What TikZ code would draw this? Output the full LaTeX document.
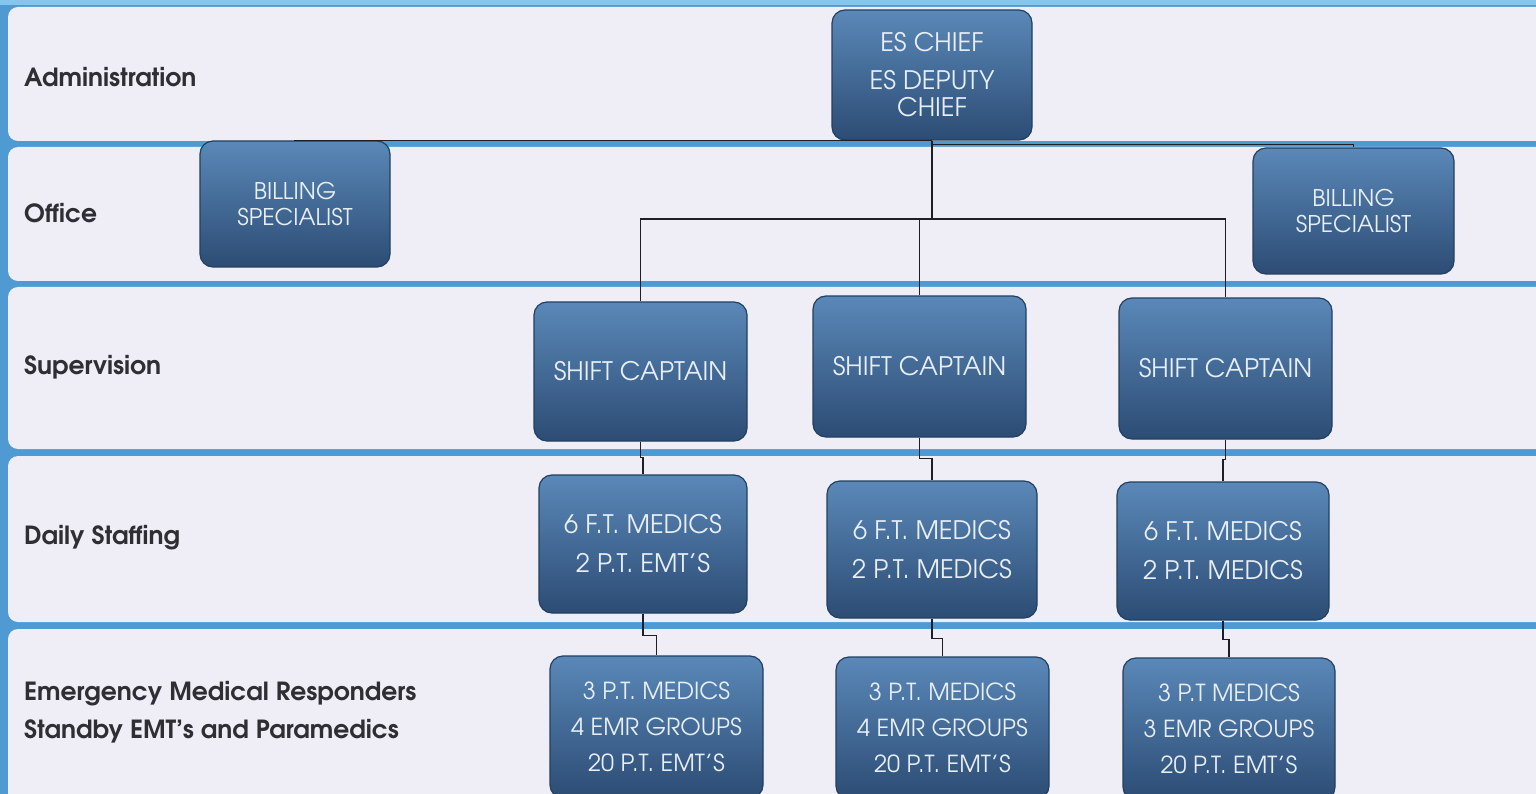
\documentclass[tikz,border=0pt]{standalone}
\usepackage{fontspec}
\setmainfont{TeX Gyre Adventor}
\usetikzlibrary{calc}
\definecolor{bgblue}{HTML}{4F9AD3}
\definecolor{bgtop}{HTML}{86C6EC}
\definecolor{bandfill}{HTML}{EFEEF6}
\definecolor{boxtop}{HTML}{5A88B8}
\definecolor{boxbot}{HTML}{2C4C74}
\definecolor{boxedge}{HTML}{22405F}
\definecolor{boxtext}{HTML}{E8EEF6}
\definecolor{labtext}{HTML}{2E2E33}
\definecolor{linecol}{HTML}{1E1E24}
\tikzset{
  x=1pt, y=-1pt,
  band/.style={fill=bandfill, draw=none, rounded corners=10pt},
  rolebox/.style={rectangle, rounded corners=13pt, top color=boxtop, bottom color=boxbot,
    draw=boxedge, line width=1.2pt, text=boxtext, align=center, inner sep=0pt,
    font=\fontsize{25.5}{27}\selectfont},
  billbox/.style={rolebox, font=\fontsize{23}{26}\selectfont},
  emrbox/.style={rolebox, font=\fontsize{23.5}{27}\selectfont},
  lab/.style={anchor=west, text=labtext, font=\bfseries\fontsize{25}{30}\selectfont, align=left, inner sep=0pt},
  conn/.style={draw=linecol, line width=1.6pt}
}
\begin{document}
\begin{tikzpicture}
\useasboundingbox (0,0) rectangle (1536,794);
\clip (0,0) rectangle (1536,794);
% background
\fill[bgblue] (0,0) rectangle (1536,794);
\fill[bgtop] (0,0) rectangle (1536,5);
% bands
\fill[band] (8,7) rectangle (1580,141);
\fill[band] (8,147) rectangle (1580,281);
\fill[band] (8,287) rectangle (1580,449);
\fill[band] (8,456) rectangle (1580,622);
\fill[band] (8,629) rectangle (1580,830);
% labels
\node[lab] (l1) at (24,77) {Administration};
\node[lab] (l2) at (24,213) {Office};
\node[lab] (l3) at (24,367) {Supervision};
\node[lab] (l4) at (24,538) {Daily Staffing};
\node[lab] (l5) at (24,712) {Emergency Medical Responders\\[8pt]Standby EMT's and Paramedics};
% boxes
\node[rolebox, minimum width=200pt, minimum height=130pt] (chief) at (932,75) {ES CHIEF\\[11pt]ES DEPUTY\\CHIEF};
\node[billbox, minimum width=190pt, minimum height=126pt] (billL) at (295,204) {BILLING\\SPECIALIST};
\node[billbox, minimum width=201pt, minimum height=126pt] (billR) at (1353.5,211) {BILLING\\SPECIALIST};
\node[rolebox, minimum width=213pt, minimum height=139pt] (sc1) at (640.5,371.5) {SHIFT CAPTAIN};
\node[rolebox, minimum width=213pt, minimum height=141pt] (sc2) at (919.5,366.5) {SHIFT CAPTAIN};
\node[rolebox, minimum width=213pt, minimum height=141pt] (sc3) at (1225.5,368.5) {SHIFT CAPTAIN};
\node[rolebox, minimum width=208pt, minimum height=138pt] (d1) at (643,544) {6 F.T. MEDICS\\[12pt]2 P.T. EMT'S};
\node[rolebox, minimum width=210pt, minimum height=137pt] (d2) at (932,549.5) {6 F.T. MEDICS\\[12pt]2 P.T. MEDICS};
\node[rolebox, minimum width=212pt, minimum height=138pt] (d3) at (1223,551) {6 F.T. MEDICS\\[12pt]2 P.T. MEDICS};
\node[emrbox, minimum width=213pt, minimum height=142pt] (e1) at (656.5,727) {3 P.T. MEDICS\\[9pt]4 EMR GROUPS\\[9pt]20 P.T. EMT'S};
\node[emrbox, minimum width=213pt, minimum height=142pt] (e2) at (942.5,728) {3 P.T. MEDICS\\[9pt]4 EMR GROUPS\\[9pt]20 P.T. EMT'S};
\node[emrbox, minimum width=212pt, minimum height=142pt] (e3) at (1229,729) {3 P.T MEDICS\\[9pt]3 EMR GROUPS\\[9pt]20 P.T. EMT'S};
% connectors
\coordinate (j1) at (932,219);
\draw[conn] (billL.north) |- (chief.south);
\draw[conn] (chief.south) -- ++(0,4) -| (billR.north);
\draw[conn] (chief.south) -- (j1);
\draw[conn] (sc1.north) -- (sc1.north |- j1) -- (sc3.north |- j1) -- (sc3.north);
\draw[conn] (sc2.north) -- (sc2.north |- j1);
\draw[conn] (sc1.south) -- ++(0,16) -| (d1.north);
\draw[conn] (sc2.south) -- ++(0,21) -| (d2.north);
\draw[conn] (sc3.south) -- ++(0,20) -| (d3.north);
\draw[conn] (d1.south) -- ++(0,22) -| (e1.north);
\draw[conn] (d2.south) -- ++(0,20) -| (e2.north);
\draw[conn] (d3.south) -- ++(0,19) -| (e3.north);
\end{tikzpicture}
\end{document}
